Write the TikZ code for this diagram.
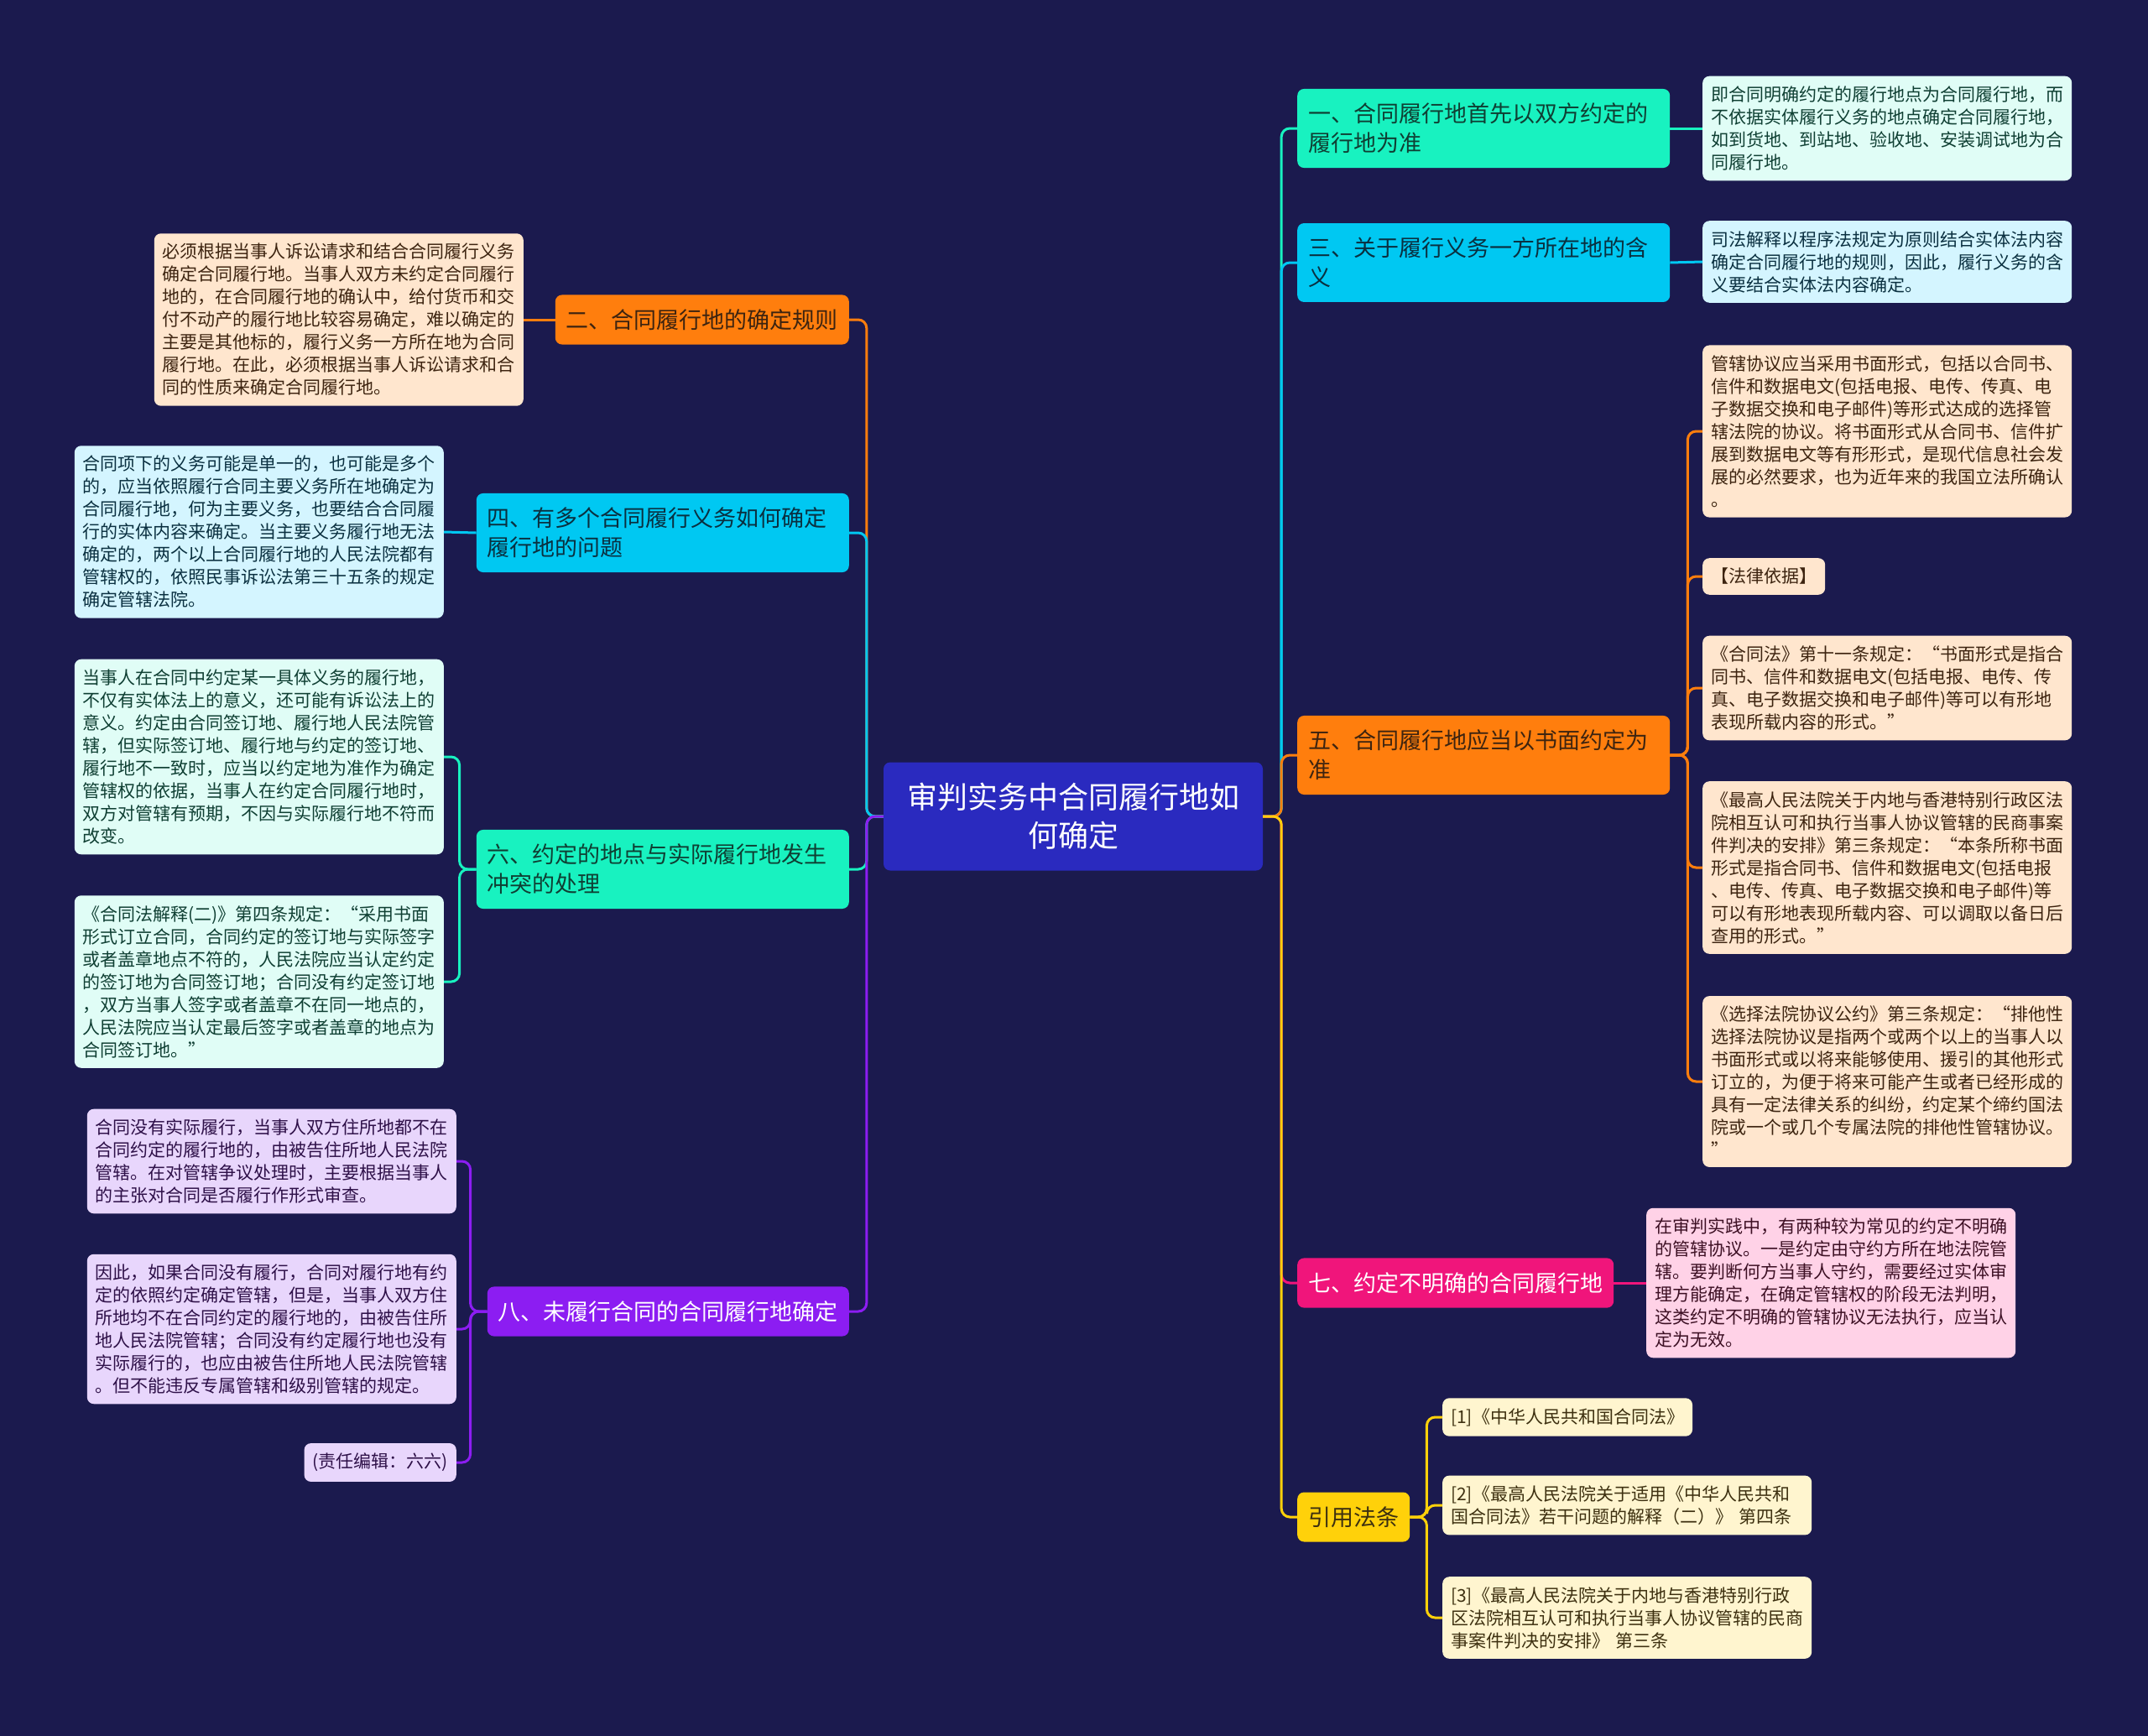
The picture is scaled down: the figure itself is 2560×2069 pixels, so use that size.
\documentclass[tikz,border=0pt]{standalone}
\usepackage{fontspec}
\setmainfont{Noto Sans CJK SC}
\usetikzlibrary{positioning}

\definecolor{bg}{HTML}{1B1A4E}
\definecolor{rootc}{HTML}{2A2ABF}
\definecolor{mint}{HTML}{18F2C0}
\definecolor{mintl}{HTML}{E0FDF6}
\definecolor{minttx}{HTML}{0F3F33}
\definecolor{cyanb}{HTML}{00C8F2}
\definecolor{cyanl}{HTML}{D4F5FF}
\definecolor{cyantx}{HTML}{0A3040}
\definecolor{orng}{HTML}{FF7E0D}
\definecolor{orngl}{HTML}{FFE6CE}
\definecolor{orngtx}{HTML}{3D2410}
\definecolor{pinkb}{HTML}{F0157B}
\definecolor{pinkl}{HTML}{FFD2E7}
\definecolor{pinktx}{HTML}{3D1024}
\definecolor{yell}{HTML}{FFD10A}
\definecolor{yelll}{HTML}{FFF5CF}
\definecolor{yelltx}{HTML}{3D3010}
\definecolor{purp}{HTML}{8C1DF2}
\definecolor{purpl}{HTML}{E8D6FC}
\definecolor{purptx}{HTML}{2E1048}

\begin{document}
\begin{tikzpicture}[x=1pt,y=-1pt,
  root/.style={fill=rootc,text=white,rounded corners=8pt,align=center,text width=400pt,
    minimum width=452pt,minimum height=129pt,font=\fontsize{36}{46}\selectfont},
  branch/.style={rounded corners=8pt,align=left,inner xsep=13pt,inner ysep=17pt,
    font=\fontsize{27}{35}\selectfont},
  leaf/.style={rounded corners=8pt,align=left,inner xsep=10pt,inner ysep=12pt,
    text width=420pt,font=\fontsize{21}{27}\selectfont},
  tag/.style={rounded corners=8pt,align=left,inner xsep=10pt,inner ysep=12pt,
    font=\fontsize{21}{27}\selectfont},
  link/.style={line width=3pt,rounded corners=10pt}]

\fill[bg] (0,0) rectangle (2560,2069);
\useasboundingbox (0,0) rectangle (2560,2069);

\node[root] (root) at (1279,973) {审判实务中合同履行地如\\何确定};

% right side
\node[branch,fill=mint,text=minttx,text width=418pt,anchor=west] (br1) at (1546,153)
  {一、合同履行地首先以双方约定的\\履行地为准};
\node[branch,fill=cyanb,text=cyantx,text width=418pt,anchor=west] (br3) at (1546,313)
  {三、关于履行义务一方所在地的含\\义};
\node[branch,fill=orng,text=orngtx,text width=418pt,anchor=west] (br5) at (1546,900)
  {五、合同履行地应当以书面约定为\\准};
\node[branch,fill=pinkb,text=white,anchor=west] (br7) at (1546,1529) {七、约定不明确的合同履行地};
\node[branch,fill=yell,text=yelltx,anchor=west] (brref) at (1546,1808) {引用法条};

\node[leaf,fill=mintl,text=minttx,anchor=west] (lf1) at (2029,153)
  {即合同明确约定的履行地点为合同履行地，而\\
   不依据实体履行义务的地点确定合同履行地，\\
   如到货地、到站地、验收地、安装调试地为合\\
   同履行地。};
\node[leaf,fill=cyanl,text=cyantx,anchor=west] (lf3) at (2029,312)
  {司法解释以程序法规定为原则结合实体法内容\\
   确定合同履行地的规则，因此，履行义务的含\\
   义要结合实体法内容确定。};
\node[leaf,fill=orngl,text=orngtx,anchor=west] (lf5a) at (2029,514)
  {管辖协议应当采用书面形式，包括以合同书、\\
   信件和数据电文(包括电报、电传、传真、电\\
   子数据交换和电子邮件)等形式达成的选择管\\
   辖法院的协议。将书面形式从合同书、信件扩\\
   展到数据电文等有形形式，是现代信息社会发\\
   展的必然要求，也为近年来的我国立法所确认\\
   。};
\node[tag,fill=orngl,text=orngtx,anchor=west] (lf5b) at (2029,687) {【法律依据】};
\node[leaf,fill=orngl,text=orngtx,anchor=west] (lf5c) at (2029,820)
  {《合同法》第十一条规定：“书面形式是指合\\
   同书、信件和数据电文(包括电报、电传、传\\
   真、电子数据交换和电子邮件)等可以有形地\\
   表现所载内容的形式。”};
\node[leaf,fill=orngl,text=orngtx,anchor=west] (lf5d) at (2029,1034)
  {《最高人民法院关于内地与香港特别行政区法\\
   院相互认可和执行当事人协议管辖的民商事案\\
   件判决的安排》第三条规定：“本条所称书面\\
   形式是指合同书、信件和数据电文(包括电报\\
   、电传、传真、电子数据交换和电子邮件)等\\
   可以有形地表现所载内容、可以调取以备日后\\
   查用的形式。”};
\node[leaf,fill=orngl,text=orngtx,anchor=west] (lf5e) at (2029,1289)
  {《选择法院协议公约》第三条规定：“排他性\\
   选择法院协议是指两个或两个以上的当事人以\\
   书面形式或以将来能够使用、援引的其他形式\\
   订立的，为便于将来可能产生或者已经形成的\\
   具有一定法律关系的纠纷，约定某个缔约国法\\
   院或一个或几个专属法院的排他性管辖协议。\\
   ”};
\node[leaf,fill=pinkl,text=pinktx,anchor=west] (lf7) at (1962,1529)
  {在审判实践中，有两种较为常见的约定不明确\\
   的管辖协议。一是约定由守约方所在地法院管\\
   辖。要判断何方当事人守约，需要经过实体审\\
   理方能确定，在确定管辖权的阶段无法判明，\\
   这类约定不明确的管辖协议无法执行，应当认\\
   定为无效。};
\node[tag,fill=yelll,text=yelltx,anchor=west] (lfr1) at (1719,1689) {[1]《中华人民共和国合同法》};
\node[leaf,fill=yelll,text=yelltx,anchor=west] (lfr2) at (1719,1794)
  {[2]《最高人民法院关于适用《中华人民共和\\
   国合同法》若干问题的解释（二）》 第四条};
\node[leaf,fill=yelll,text=yelltx,anchor=west] (lfr3) at (1719,1928)
  {[3]《最高人民法院关于内地与香港特别行政\\
   区法院相互认可和执行当事人协议管辖的民商\\
   事案件判决的安排》 第三条};

% left side
\node[branch,fill=orng,text=orngtx,anchor=east] (br2) at (1012,381) {二、合同履行地的确定规则};
\node[branch,fill=cyanb,text=cyantx,text width=418pt,anchor=east] (br4) at (1012,635)
  {四、有多个合同履行义务如何确定\\履行地的问题};
\node[branch,fill=mint,text=minttx,text width=418pt,anchor=east] (br6) at (1012,1036)
  {六、约定的地点与实际履行地发生\\冲突的处理};
\node[branch,fill=purp,text=white,anchor=east] (br8) at (1012,1563) {八、未履行合同的合同履行地确定};

\node[leaf,fill=orngl,text=orngtx,anchor=east] (lf2) at (624,381)
  {必须根据当事人诉讼请求和结合合同履行义务\\
   确定合同履行地。当事人双方未约定合同履行\\
   地的，在合同履行地的确认中，给付货币和交\\
   付不动产的履行地比较容易确定，难以确定的\\
   主要是其他标的，履行义务一方所在地为合同\\
   履行地。在此，必须根据当事人诉讼请求和合\\
   同的性质来确定合同履行地。};
\node[leaf,fill=cyanl,text=cyantx,anchor=east] (lf4) at (529,634)
  {合同项下的义务可能是单一的，也可能是多个\\
   的，应当依照履行合同主要义务所在地确定为\\
   合同履行地，何为主要义务，也要结合合同履\\
   行的实体内容来确定。当主要义务履行地无法\\
   确定的，两个以上合同履行地的人民法院都有\\
   管辖权的，依照民事诉讼法第三十五条的规定\\
   确定管辖法院。};
\node[leaf,fill=mintl,text=minttx,anchor=east] (lf6a) at (529,902)
  {当事人在合同中约定某一具体义务的履行地，\\
   不仅有实体法上的意义，还可能有诉讼法上的\\
   意义。约定由合同签订地、履行地人民法院管\\
   辖，但实际签订地、履行地与约定的签订地、\\
   履行地不一致时，应当以约定地为准作为确定\\
   管辖权的依据，当事人在约定合同履行地时，\\
   双方对管辖有预期，不因与实际履行地不符而\\
   改变。};
\node[leaf,fill=mintl,text=minttx,anchor=east] (lf6b) at (529,1170)
  {《合同法解释(二)》第四条规定：“采用书面\\
   形式订立合同，合同约定的签订地与实际签字\\
   或者盖章地点不符的，人民法院应当认定约定\\
   的签订地为合同签订地；合同没有约定签订地\\
   ，双方当事人签字或者盖章不在同一地点的，\\
   人民法院应当认定最后签字或者盖章的地点为\\
   合同签订地。”};
\node[leaf,fill=purpl,text=purptx,anchor=east] (lf8a) at (544,1384)
  {合同没有实际履行，当事人双方住所地都不在\\
   合同约定的履行地的，由被告住所地人民法院\\
   管辖。在对管辖争议处理时，主要根据当事人\\
   的主张对合同是否履行作形式审查。};
\node[leaf,fill=purpl,text=purptx,anchor=east] (lf8b) at (544,1584)
  {因此，如果合同没有履行，合同对履行地有约\\
   定的依照约定确定管辖，但是，当事人双方住\\
   所地均不在合同约定的履行地的，由被告住所\\
   地人民法院管辖；合同没有约定履行地也没有\\
   实际履行的，也应由被告住所地人民法院管辖\\
   。但不能违反专属管辖和级别管辖的规定。};
\node[tag,fill=purpl,text=purptx,anchor=east] (lf8c) at (544,1743) {(责任编辑：六六)};

% root links
\draw[link,mint] (root.east) -- ++(22,0) |- (br1.west);
\draw[link,cyanb] (root.east) -- ++(22,0) |- (br3.west);
\draw[link,orng] (root.east) -- ++(22,0) |- (br5.west);
\draw[link,pinkb] (root.east) -- ++(22,0) |- (br7.west);
\draw[link,yell] (root.east) -- ++(22,0) |- (brref.west);
\draw[link,orng] (root.west) -- ++(-20,0) |- (br2.east);
\draw[link,cyanb] (root.west) -- ++(-20,0) |- (br4.east);
\draw[link,mint] (root.west) -- ++(-20,0) |- (br6.east);
\draw[link,purp] (root.west) -- ++(-20,0) |- (br8.east);

% leaf links
\draw[link,mint] (br1.east) -- (lf1.west);
\draw[link,cyanb] (br3.east) -- (lf3.west);
\foreach \l in {lf5a,lf5b,lf5c,lf5d,lf5e}
  \draw[link,orng] (br5.east) -- ++(21,0) |- (\l.west);
\draw[link,pinkb] (br7.east) -- (lf7.west);
\foreach \l in {lfr1,lfr2,lfr3}
  \draw[link,yell] (brref.east) -- ++(20,0) |- (\l.west);
\draw[link,orng] (br2.west) -- (lf2.east);
\draw[link,cyanb] (br4.west) -- (lf4.east);
\foreach \l in {lf6a,lf6b}
  \draw[link,mint] (br6.west) -- ++(-20,0) |- (\l.east);
\foreach \l in {lf8a,lf8b,lf8c}
  \draw[link,purp] (br8.west) -- ++(-20,0) |- (\l.east);
\end{tikzpicture}
\end{document}
